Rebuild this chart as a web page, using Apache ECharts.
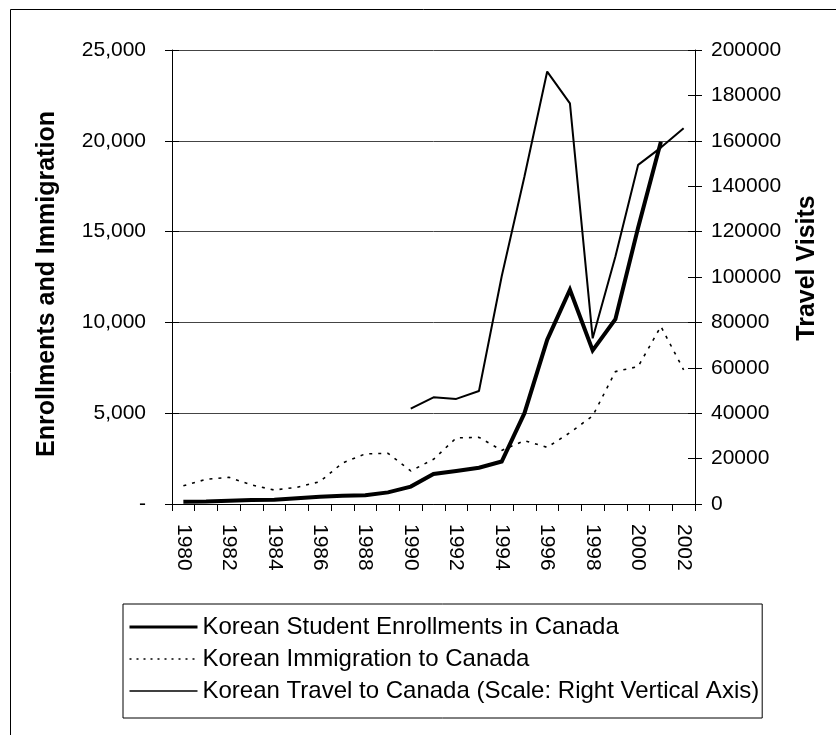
<!DOCTYPE html>
<html>
<head>
<meta charset="utf-8">
<script src="https://cdn.jsdelivr.net/npm/echarts@6/dist/echarts.min.js"></script>
<style>
  html, body { margin: 0; padding: 0; background: #fff; }
  #chart { width: 836px; height: 735px; }
</style>
</head>
<body>
<div id="chart"></div>
<script>
var years = ['1980','1981','1982','1983','1984','1985','1986','1987','1988','1989','1990','1991',
             '1992','1993','1994','1995','1996','1997','1998','1999','2000','2001','2002'];
var enrollments = [130, 140, 180, 220, 240, 310, 400, 450, 480, 640, 960, 1650,
                   1820, 2000, 2340, 5000, 9040, 11800, 8460, 10180, 15230, 19950, null];
var immigration = [1000, 1360, 1470, 1050, 770, 920, 1230, 2260, 2760, 2790, 1820, 2460,
                   3640, 3670, 2950, 3490, 3120, 3930, 4850, 7290, 7570, 9780, 7390];
var travel = [null, null, null, null, null, null, null, null, null, null, 42000, 47000,
              46300, 49800, 100300, 144300, 190500, 176500, 73000, 109000, 149400, 157000, 165500];
var leftTicks = { min: 0, max: 25000, interval: 5000 };
var rightTicks = { min: 0, max: 200000, interval: 20000 };
var seriesNames = ['Korean Student Enrollments in Canada', 'Korean Immigration to Canada',
                   'Korean Travel to Canada (Scale: Right Vertical Axis)'];
var leftTitle = 'Enrollments and Immigration';
var rightTitle = 'Travel Visits';

var FONT = 'Liberation Sans';
var chart = echarts.init(document.getElementById('chart'), null, { renderer: 'canvas' });

function leftFmt(v) { return v === 0 ? '-' : v.toLocaleString('en-US'); }
function rightFmt(v) { return String(v); }

chart.setOption({
  animation: false,
  backgroundColor: '#ffffff',
  textStyle: { fontFamily: FONT, color: '#000' },
  graphic: [{
    type: 'rect',
    shape: { x: 10.5, y: 9.5, width: 1000, height: 1000 },
    style: { fill: 'none', stroke: '#000', lineWidth: 1 },
    silent: true
  }, {
    type: 'text', x: 47, y: 284, rotation: Math.PI / 2,
    style: { text: leftTitle, font: 'bold 25px "Liberation Sans"', fill: '#000',
             textAlign: 'center', textVerticalAlign: 'middle' },
    silent: true
  }, {
    type: 'text', x: 807, y: 268, rotation: Math.PI / 2,
    style: { text: rightTitle, font: 'bold 25px "Liberation Sans"', fill: '#000',
             textAlign: 'center', textVerticalAlign: 'middle' },
    silent: true
  }],
  grid: { left: 172, right: 141, top: 50, bottom: 231, containLabel: false },
  legend: {
    orient: 'vertical',
    left: 123, top: 604,
    padding: [11, 3, 15, 5],
    itemGap: 8,
    itemWidth: 68,
    itemHeight: 14,
    borderColor: '#000', borderWidth: 1,
    backgroundColor: '#fff',
    itemStyle: { opacity: 0 },
    textStyle: { fontFamily: FONT, fontSize: 24, color: '#000' },
    data: [
      { name: seriesNames[0], lineStyle: { width: 3, color: '#000' } },
      { name: seriesNames[1], lineStyle: { width: 1.6, color: '#000', type: [2, 5] } },
      { name: seriesNames[2], lineStyle: { width: 1.6, color: '#000' } }
    ]
  },
  xAxis: {
    type: 'category',
    data: years,
    boundaryGap: true,
    axisLine: { lineStyle: { color: '#000', width: 1 } },
    axisTick: { show: true, interval: 0, length: 7, lineStyle: { color: '#000' } },
    axisLabel: { interval: 1, rotate: -90, margin: 20, fontFamily: FONT, fontSize: 21, color: '#000' },
    splitLine: { show: false }
  },
  yAxis: [{
    type: 'value', position: 'left',
    min: leftTicks.min, max: leftTicks.max, interval: leftTicks.interval,
    axisLine: { show: true, lineStyle: { color: '#000', width: 1 } },
    axisTick: { show: true, length: 7, lineStyle: { color: '#000' } },
    axisLabel: { formatter: leftFmt, margin: 26, fontFamily: FONT, fontSize: 21, color: '#000' },
    splitLine: { show: true, lineStyle: { color: '#444', width: 1 } }
  }, {
    type: 'value', position: 'right',
    min: rightTicks.min, max: rightTicks.max, interval: rightTicks.interval,
    axisLine: { show: true, lineStyle: { color: '#000', width: 1 } },
    axisTick: { show: true, length: 7, lineStyle: { color: '#000' } },
    axisLabel: { formatter: rightFmt, margin: 16, fontFamily: FONT, fontSize: 21, color: '#000' },
    splitLine: { show: false }
  }, {
    type: 'value', position: 'left',
    min: leftTicks.min, max: leftTicks.max, interval: leftTicks.interval,
    axisLine: { show: false },
    axisTick: { show: true, inside: true, length: 7, lineStyle: { color: '#000' } },
    axisLabel: { show: false }, splitLine: { show: false }
  }, {
    type: 'value', position: 'right',
    min: rightTicks.min, max: rightTicks.max, interval: rightTicks.interval,
    axisLine: { show: false },
    axisTick: { show: true, inside: true, length: 7, lineStyle: { color: '#000' } },
    axisLabel: { show: false }, splitLine: { show: false }
  }],
  series: [{
    name: seriesNames[0],
    type: 'line', yAxisIndex: 0, data: enrollments,
    symbol: 'none', connectNulls: false,
    lineStyle: { color: '#000', width: 4, join: 'miter' },
    itemStyle: { color: '#000' }, z: 4
  }, {
    name: seriesNames[1],
    type: 'line', yAxisIndex: 0, data: immigration,
    symbol: 'none',
    lineStyle: { color: '#000', width: 1.6, type: [3, 6] },
    itemStyle: { color: '#000' }, z: 3
  }, {
    name: seriesNames[2],
    type: 'line', yAxisIndex: 1, data: travel,
    symbol: 'none', connectNulls: false,
    lineStyle: { color: '#000', width: 2 },
    itemStyle: { color: '#000' }, z: 5
  }]
});
</script>
</body>
</html>
